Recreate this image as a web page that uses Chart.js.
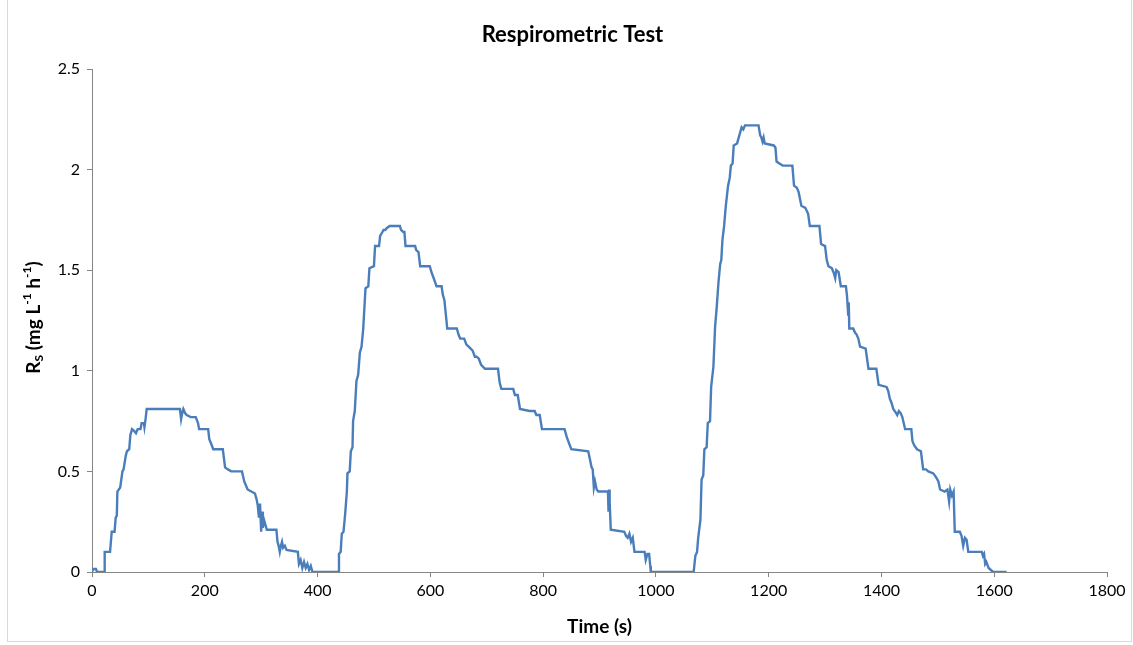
<!DOCTYPE html>
<html>
<head>
<meta charset="utf-8">
<title>Respirometric Test</title>
<script src="https://cdn.jsdelivr.net/npm/chart.js@4.4.1/dist/chart.umd.min.js"></script>
<style>
  html, body { margin: 0; padding: 0; background: #fff; }
  #wrap { position: relative; width: 1133px; height: 645px; }
  #frame { position: absolute; left: 7px; top: -1px; width: 1123px; height: 641px; border: 1px solid #d9d9d9; pointer-events: none; }
</style>
</head>
<body>
<div id="wrap">
  <canvas id="chartCanvas" width="1133" height="645"></canvas>
  <div id="frame"></div>
</div>
<script>
// x ticks / y ticks
const xTicks = [0, 200, 400, 600, 800, 1000, 1200, 1400, 1600, 1800];
const yTicks = [0, 0.5, 1, 1.5, 2, 2.5];

// first pulse
const peak1Time = [0, 2, 7, 9, 22, 22.5, 32, 35, 40, 42, 44, 45, 50, 54, 56, 60, 62, 66, 68, 71, 75, 78, 81, 86, 88, 92, 93, 95, 97,
  156, 158, 160, 162, 165, 168, 175, 184, 188, 190, 206, 208, 211, 215, 232, 236, 241, 247, 266, 270, 273, 276, 289, 292,
  294, 296, 298, 300, 302, 303, 305, 307, 310, 327, 329, 331, 333, 335, 337, 339, 342, 345, 365, 367, 370, 373, 376, 379,
  382, 385, 388, 391];
const peak1Rate = [0, 0.015, 0.015, 0, 0, 0.1, 0.1, 0.2, 0.2, 0.27, 0.28, 0.4, 0.42, 0.5, 0.51, 0.58, 0.6, 0.61, 0.68, 0.71, 0.7, 0.69, 0.71, 0.71, 0.74, 0.74, 0.72, 0.76, 0.81,
  0.81, 0.76, 0.79, 0.81, 0.79, 0.78, 0.77, 0.77, 0.74, 0.71, 0.71, 0.66, 0.64, 0.61, 0.61, 0.52, 0.51, 0.5, 0.5, 0.45, 0.43, 0.41, 0.39, 0.36,
  0.33, 0.27, 0.34, 0.2, 0.3, 0.22, 0.26, 0.24, 0.21, 0.21, 0.15, 0.13, 0.1, 0.13, 0.15, 0.12, 0.13, 0.11, 0.1, 0.04, 0.06, 0.02, 0.05, 0.02,
  0.04, 0.01, 0.03, 0];

// second pulse
const peak2Time = [437, 438, 441, 443, 446, 449, 452, 453, 457, 459, 462, 463, 466, 469, 472, 475, 478, 481, 485, 490, 492, 500, 502, 509,
  511, 515, 517, 520, 523, 528, 537, 546, 548, 552, 554, 556, 573, 575, 579, 582, 599, 602, 606, 611, 620, 622, 625, 630, 647,
  650, 653, 660, 664, 668, 675, 679, 682, 686, 690, 697, 720, 723, 726, 747, 750, 755, 759, 776, 785, 788, 794, 798, 838, 842,
  846, 850, 880, 883, 886, 888, 890, 892, 895, 898, 915, 916, 917, 918, 920, 944, 947, 950, 953, 956, 959, 962, 980, 982, 985,
  988, 990, 991];
const peak2Rate = [0, 0.09, 0.1, 0.19, 0.2, 0.29, 0.4, 0.49, 0.5, 0.6, 0.62, 0.75, 0.8, 0.95, 0.98, 1.09, 1.12, 1.21, 1.41, 1.42, 1.51, 1.52, 1.62, 1.62,
  1.67, 1.69, 1.7, 1.7, 1.71, 1.72, 1.72, 1.72, 1.7, 1.69, 1.69, 1.62, 1.62, 1.6, 1.59, 1.52, 1.52, 1.49, 1.46, 1.42, 1.42, 1.38, 1.35, 1.21, 1.21,
  1.18, 1.16, 1.16, 1.13, 1.12, 1.1, 1.07, 1.07, 1.06, 1.03, 1.01, 1.01, 0.94, 0.91, 0.91, 0.88, 0.88, 0.81, 0.8, 0.8, 0.78, 0.78, 0.71, 0.71, 0.67,
  0.64, 0.61, 0.6, 0.56, 0.52, 0.51, 0.42, 0.45, 0.41, 0.4, 0.4, 0.3, 0.41, 0.35, 0.21, 0.2, 0.18, 0.17, 0.19, 0.15, 0.17, 0.1, 0.1, 0.06, 0.09,
  0.09, 0.03, 0];

// third pulse
const peak3Time = [1067, 1070, 1073, 1075, 1079, 1081, 1084, 1086, 1090, 1092, 1096, 1098, 1102, 1105, 1108, 1111, 1114, 1116, 1118, 1121,
  1124, 1128, 1131, 1133, 1136, 1138, 1144, 1146, 1149, 1152, 1155, 1158, 1182, 1185, 1187, 1189, 1191, 1193, 1209, 1212, 1214,
  1219, 1225, 1242, 1245, 1250, 1253, 1258, 1265, 1270, 1273, 1290, 1293, 1300, 1303, 1306, 1312, 1315, 1318, 1320, 1324, 1328,
  1337, 1339, 1341, 1342, 1343, 1350, 1353, 1356, 1359, 1362, 1372, 1377, 1391, 1395, 1409, 1412, 1415, 1418, 1421, 1426, 1428,
  1431, 1434, 1437, 1442, 1453, 1455, 1458, 1463, 1470, 1474, 1479, 1483, 1492, 1497, 1501, 1504, 1512, 1517, 1520, 1522, 1525,
  1528, 1530, 1539, 1542, 1545, 1548, 1551, 1554, 1578, 1580, 1582, 1584, 1586, 1590, 1598, 1622];
const peak3Rate = [0, 0.08, 0.1, 0.17, 0.26, 0.46, 0.48, 0.61, 0.62, 0.74, 0.75, 0.92, 1.02, 1.22, 1.32, 1.44, 1.53, 1.55, 1.65, 1.72,
  1.82, 1.92, 1.96, 2.02, 2.03, 2.12, 2.13, 2.15, 2.18, 2.21, 2.2, 2.22, 2.22, 2.17, 2.16, 2.14, 2.16, 2.13, 2.12, 2.11, 2.04,
  2.03, 2.02, 2.02, 1.92, 1.91, 1.89, 1.82, 1.81, 1.78, 1.72, 1.72, 1.63, 1.62, 1.55, 1.52, 1.51, 1.49, 1.46, 1.5, 1.49, 1.42,
  1.42, 1.37, 1.28, 1.34, 1.21, 1.21, 1.19, 1.18, 1.16, 1.12, 1.11, 1.01, 1.01, 0.93, 0.92, 0.9, 0.86, 0.84, 0.81, 0.79, 0.78,
  0.8, 0.79, 0.77, 0.71, 0.71, 0.65, 0.63, 0.61, 0.6, 0.51, 0.51, 0.5, 0.49, 0.47, 0.45, 0.41, 0.4, 0.41, 0.35, 0.41, 0.38,
  0.4, 0.2, 0.2, 0.18, 0.13, 0.17, 0.16, 0.1, 0.1, 0.08, 0.09, 0.04, 0.05, 0.02, 0, 0];

const timeSec = peak1Time.concat(peak2Time, peak3Time);
const rateRs = peak1Rate.concat(peak2Rate, peak3Rate);

const FONT = 'Lato, "Liberation Sans", sans-serif';
const AXIS_GREY = '#868686';
const LEFT_PAD = 38;

// y axis title with sub/superscripts
const yTitlePlugin = {
  id: 'yTitle',
  afterDraw(chart) {
    const ctx = chart.ctx;
    const area = chart.chartArea;
    const parts = [
      ['R', 0, 19], ['S', 5, 12], [' (mg L', 0, 19], ['-1', -7, 12],
      [' h', 0, 19], ['-1', -7, 12], [')', 0, 19]
    ];
    ctx.save();
    ctx.translate(34, (area.top + area.bottom) / 2 - 3);
    ctx.rotate(-Math.PI / 2);
    ctx.fillStyle = '#000';
    ctx.textBaseline = 'middle';
    let total = 0;
    parts.forEach(p => {
      ctx.font = 'bold ' + p[2] + 'px ' + FONT;
      total += ctx.measureText(p[0]).width;
    });
    let x = -total / 2;
    parts.forEach(p => {
      ctx.font = 'bold ' + p[2] + 'px ' + FONT;
      ctx.fillText(p[0], x, p[1]);
      x += ctx.measureText(p[0]).width;
    });
    ctx.restore();
  }
};

const ctx = document.getElementById('chartCanvas').getContext('2d');
new Chart(ctx, {
  type: 'line',
  data: {
    datasets: [{
      label: 'Rs',
      data: timeSec.map((t, i) => ({ x: t, y: rateRs[i] })),
      borderColor: '#4A7EBB',
      borderWidth: 2.4,
      pointRadius: 0,
      tension: 0,
      fill: false
    }]
  },
  options: {
    responsive: false,
    animation: false,
    layout: { padding: { left: LEFT_PAD, right: 26, top: 0, bottom: 0 } },
    plugins: {
      legend: { display: false },
      tooltip: { enabled: false },
      title: {
        display: true,
        text: 'Respirometric Test',
        color: '#000',
        font: { family: FONT, size: 22, weight: 'bold' },
        padding: { top: 22, bottom: 20.6 }
      }
    },
    scales: {
      x: {
        type: 'linear',
        min: 0,
        max: 1800,
        afterBuildTicks: s => { s.ticks = xTicks.map(v => ({ value: v })); },
        afterFit: s => { s.height = 73; },
        grid: { drawOnChartArea: false, drawTicks: true, tickLength: 5, color: AXIS_GREY },
        border: { color: AXIS_GREY, width: 1 },
        ticks: { color: '#000', font: { family: FONT, size: 16 }, padding: 4, maxRotation: 0, callback: v => String(v) },
        title: {
          display: true,
          text: 'Time (s)',
          color: '#000',
          font: { family: FONT, size: 19, weight: 'bold' },
          padding: { top: 0, bottom: 6.6 }
        }
      },
      y: {
        min: 0,
        max: 2.5,
        afterBuildTicks: s => { s.ticks = yTicks.map(v => ({ value: v })); },
        afterFit: s => { s.width = 92 - LEFT_PAD; },
        grid: { drawOnChartArea: false, drawTicks: true, tickLength: 5, color: AXIS_GREY },
        border: { color: AXIS_GREY, width: 1 },
        ticks: { color: '#000', font: { family: FONT, size: 16 }, padding: 7, callback: v => String(v) }
      }
    }
  },
  plugins: [yTitlePlugin]
});
</script>
</body>
</html>
